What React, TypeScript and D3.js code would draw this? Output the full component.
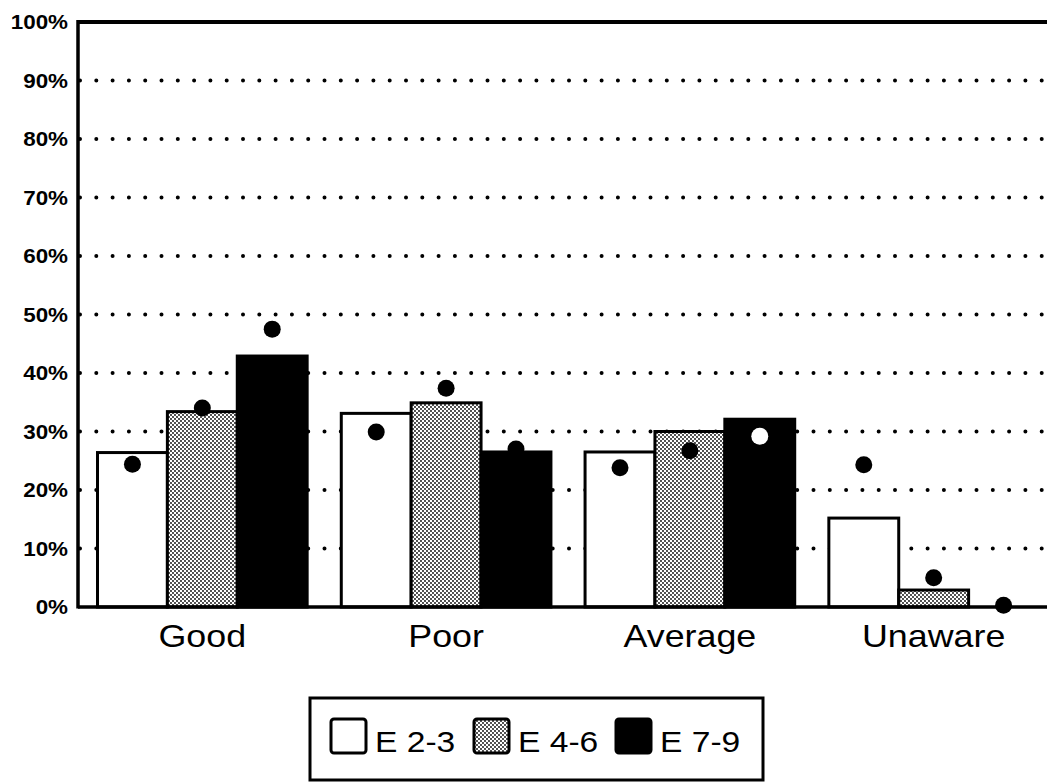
import * as d3 from "d3";

const categories = ["Good", "Poor", "Average", "Unaware"];
const seriesNames = ["E 2-3", "E 4-6", "E 7-9"];
// bar heights (percent) per series, in category order
const barValues = [
  [26.4, 33.1, 26.5, 15.2],
  [33.4, 34.9, 30.0, 2.9],
  [42.9, 26.5, 32.1, 0],
];
// dot markers (percent) per series, in category order
const dotValues = [
  [24.4, 29.9, 23.8, 24.3],
  [34.0, 37.4, 26.7, 5.0],
  [47.5, 27.0, 29.2, 0.3],
];
const yTicks = [0, 10, 20, 30, 40, 50, 60, 70, 80, 90, 100];

const WIDTH = 1047;
const HEIGHT = 783;
const PLOT = { left: 78, top: 22, bottom: 607, right: 1058 };
const FONT = "'Liberation Sans', Arial, Helvetica, sans-serif";
const STRETCH = 1.12;

const fills = ["#ffffff", "url(#stipple)", "#000000"];

const Txt = ({ x, y, size, anchor, weight, children }: any) => (
  <text
    transform={`translate(${x},${y}) scale(${STRETCH},1)`}
    fontFamily={FONT}
    fontSize={size}
    fontWeight={weight || "normal"}
    textAnchor={anchor || "start"}
    fill="#000"
  >
    {children}
  </text>
);

export default function App() {
  const y = d3.scaleLinear().domain([0, 100]).range([PLOT.bottom, PLOT.top]);
  const x0 = d3
    .scaleBand()
    .domain(categories)
    .range([PLOT.left, PLOT.right])
    .paddingInner(0.14)
    .paddingOuter(0.08);
  const x1 = d3
    .scaleBand()
    .domain(seriesNames)
    .range([0, x0.bandwidth()]);

  return (
    <svg
      width={WIDTH}
      height={HEIGHT}
      style={{ position: "absolute", left: 0, top: 0, background: "#fff" }}
    >
      <defs>
        <pattern id="stipple" width={4} height={4} patternUnits="userSpaceOnUse">
          <rect width={4} height={4} fill="#fff" />
          <circle cx={1} cy={1} r={0.9} fill="#000" />
          <circle cx={3} cy={3} r={0.9} fill="#000" />
        </pattern>
      </defs>

      {/* dotted gridlines */}
      {yTicks
        .filter((t) => t > 0 && t < 100)
        .map((t) => (
          <line
            key={t}
            x1={80}
            x2={WIDTH}
            y1={y(t)}
            y2={y(t)}
            stroke="#000"
            strokeWidth={4}
            strokeLinecap="round"
            strokeDasharray="0 16.3"
          />
        ))}

      {/* bars */}
      {seriesNames.map((s, si) =>
        categories.map((c, ci) => {
          const v = barValues[si][ci];
          if (v <= 0) return null;
          return (
            <rect
              key={`${s}-${c}`}
              x={(x0(c) as number) + (x1(s) as number)}
              y={y(v)}
              width={x1.bandwidth()}
              height={y(0) - y(v)}
              fill={fills[si]}
              stroke="#000"
              strokeWidth={3}
            />
          );
        })
      )}

      {/* dot markers */}
      {seriesNames.map((s, si) =>
        categories.map((c, ci) => {
          const v = dotValues[si][ci];
          const inside = si === 2 && v < barValues[si][ci] - 1.5;
          return (
            <circle
              key={`d-${s}-${c}`}
              cx={(x0(c) as number) + (x1(s) as number) + x1.bandwidth() / 2}
              cy={y(v)}
              r={8.5}
              fill={inside ? "#fff" : "#000"}
            />
          );
        })
      )}

      {/* frame / axes */}
      <line x1={PLOT.left} x2={WIDTH} y1={PLOT.top} y2={PLOT.top} stroke="#000" strokeWidth={4} />
      <line x1={PLOT.left} x2={PLOT.left} y1={PLOT.top - 2} y2={PLOT.bottom + 1.5} stroke="#000" strokeWidth={3.5} />
      <line x1={PLOT.left} x2={WIDTH} y1={PLOT.bottom} y2={PLOT.bottom} stroke="#000" strokeWidth={3.5} />

      {/* y tick labels */}
      {yTicks.map((t) => (
        <Txt key={t} x={68} y={y(t) + 7} size={20} anchor="end" weight="bold">
          {`${t}%`}
        </Txt>
      ))}

      {/* category labels */}
      {categories.map((c) => (
        <Txt key={c} x={(x0(c) as number) + x0.bandwidth() / 2} y={647} size={32} anchor="middle">
          {c}
        </Txt>
      ))}

      {/* legend */}
      <rect x={310} y={698} width={453} height={82} fill="#fff" stroke="#000" strokeWidth={3} />
      {seriesNames.map((s, si) => {
        const lx = [331, 474, 616][si];
        return (
          <g key={s}>
            <rect
              x={lx}
              y={719}
              width={35}
              height={34}
              rx={3}
              fill={fills[si]}
              stroke="#000"
              strokeWidth={3}
            />
            <Txt x={lx + 44} y={752} size={30}>
              {s}
            </Txt>
          </g>
        );
      })}
    </svg>
  );
}
